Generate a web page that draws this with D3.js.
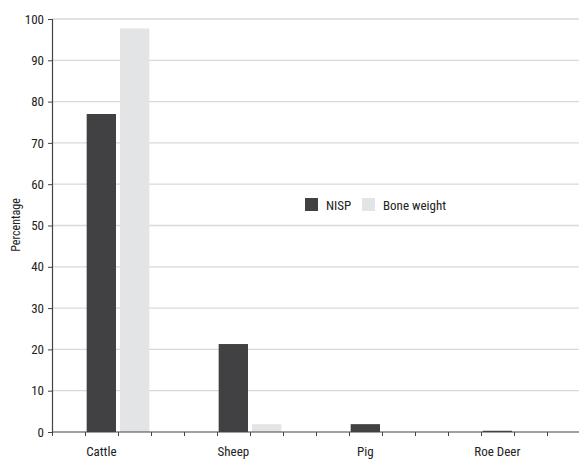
<!DOCTYPE html>
<html><head><meta charset="utf-8">
<script src="https://cdn.jsdelivr.net/npm/d3@7"></script>
<style>
body{margin:0;background:#fff;}
text{font-family:"Liberation Sans Narrow","Arial Narrow","Roboto Condensed",sans-serif;fill:#222;}
</style></head>
<body>
<svg id="chart" width="579" height="459"></svg>
<script>
const categories = ["Cattle","Sheep","Pig","Roe Deer"];
const seriesNames = ["NISP","Bone weight"];
const nisp = [77, 21.3, 1.9, 0.3];
const boneWeight = [97.7, 1.9, 0, 0];
const yTicks = [0,10,20,30,40,50,60,70,80,90,100];
const colors = ["#414143","#e3e4e6"];

(function(){
const svg = d3.select("#chart");
const mLeft = 52, mRight = 580, mTop = 19, mBottom = 432;

const x = d3.scaleBand().domain(categories).range([mLeft, mRight]).padding(0);
const bw = x.bandwidth();
const xSub = d3.scaleBand().domain(seriesNames).range([bw*0.25, bw*0.75]).paddingInner(0.12).paddingOuter(0.05);
const y = d3.scaleLinear().domain([0,100]).range([mBottom, mTop]);

// gridlines
svg.append("g").selectAll("line").data(yTicks.filter(d=>d>0)).join("line")
  .attr("x1", mLeft).attr("x2", 579)
  .attr("y1", d=>y(d)).attr("y2", d=>y(d))
  .attr("stroke","#d9d9d9").attr("stroke-width",1.3);

// bars
const data = categories.map((c,i)=>({cat:c, vals:[nisp[i], boneWeight[i]]}));
const g = svg.append("g");
data.forEach(d=>{
  seriesNames.forEach((s,j)=>{
    if (d.vals[j] <= 0) return;
    g.append("rect")
      .attr("x", x(d.cat)+xSub(s))
      .attr("width", xSub.bandwidth())
      .attr("y", y(d.vals[j]))
      .attr("height", mBottom - y(d.vals[j]))
      .attr("fill", colors[j]);
  });
});

// y axis
const yAxis = d3.axisLeft(y).tickValues(yTicks).tickSize(4).tickPadding(4);
const ya = svg.append("g").attr("transform",`translate(${mLeft},0)`).call(yAxis);
ya.select(".domain").attr("stroke","#444").attr("stroke-width",1.2);
ya.selectAll(".tick line").attr("stroke","#444");
ya.selectAll("text").style("font-size","13px").attr("fill","#222");

// x axis with quarter-category ticks
const xt = d3.scaleLinear().domain([0,16]).range([mLeft, mRight]);
const xAxis = d3.axisBottom(xt).tickValues(d3.range(0,16)).tickSize(4).tickFormat("");
const xa = svg.append("g").attr("transform",`translate(0,${mBottom})`).call(xAxis);
xa.select(".domain").attr("stroke","#444").attr("stroke-width",1.2).attr("d",`M${mLeft},0H579`);
xa.selectAll(".tick line").attr("stroke","#444");

// category labels centered under NISP bar
svg.append("g").selectAll("text").data(categories).join("text")
  .attr("x", d=>x(d)+xSub("NISP")+xSub.bandwidth()/2)
  .attr("y", 456)
  .attr("text-anchor","middle")
  .style("font-size","13px")
  .text(d=>d);

// y label
svg.append("text")
  .attr("transform","translate(20,225) rotate(-90)")
  .attr("text-anchor","middle")
  .style("font-size","12px")
  .text("Percentage");

// legend
const legX = [305, 362];
seriesNames.forEach((s,j)=>{
  svg.append("rect").attr("x",legX[j]).attr("y",198).attr("width",13).attr("height",13).attr("fill",colors[j]);
  svg.append("text").attr("x",legX[j]+21).attr("y",210).style("font-size","13px").text(s);
});
})();
</script>
</body></html>
